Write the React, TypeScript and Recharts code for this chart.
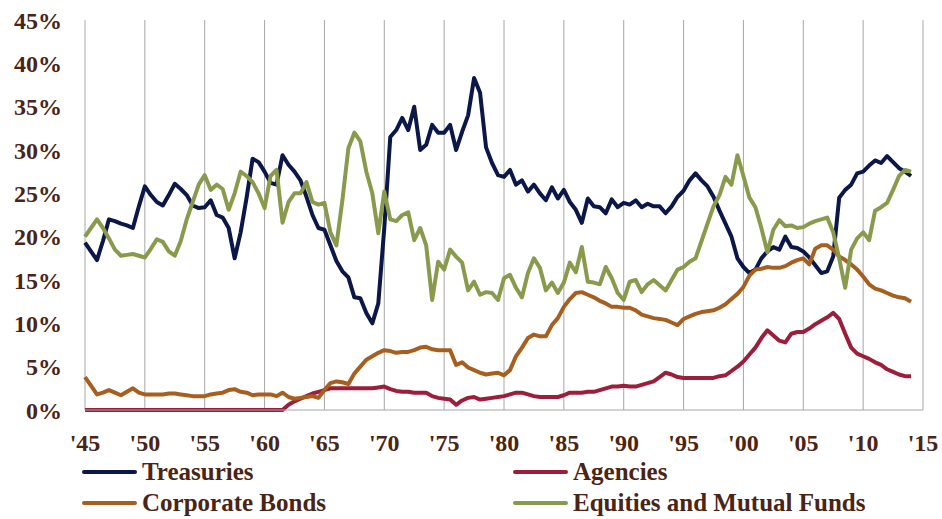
import React from 'react';
import {
  LineChart,
  Line,
  XAxis,
  YAxis,
  CartesianGrid,
  Legend,
} from 'recharts';

// half-year steps, '45 to '14
const YEARS = [
  1945, 1945.5, 1946, 1946.5, 1947, 1947.5, 1948, 1948.5, 1949, 1949.5,
  1950, 1950.5, 1951, 1951.5, 1952, 1952.5, 1953, 1953.5, 1954, 1954.5,
  1955, 1955.5, 1956, 1956.5, 1957, 1957.5, 1958, 1958.5, 1959, 1959.5,
  1960, 1960.5, 1961, 1961.5, 1962, 1962.5, 1963, 1963.5, 1964, 1964.5,
  1965, 1965.5, 1966, 1966.5, 1967, 1967.5, 1968, 1968.5, 1969, 1969.5,
  1970, 1970.5, 1971, 1971.5, 1972, 1972.5, 1973, 1973.5, 1974, 1974.5,
  1975, 1975.5, 1976, 1976.5, 1977, 1977.5, 1978, 1978.5, 1979, 1979.5,
  1980, 1980.5, 1981, 1981.5, 1982, 1982.5, 1983, 1983.5, 1984, 1984.5,
  1985, 1985.5, 1986, 1986.5, 1987, 1987.5, 1988, 1988.5, 1989, 1989.5,
  1990, 1990.5, 1991, 1991.5, 1992, 1992.5, 1993, 1993.5, 1994, 1994.5,
  1995, 1995.5, 1996, 1996.5, 1997, 1997.5, 1998, 1998.5, 1999, 1999.5,
  2000, 2000.5, 2001, 2001.5, 2002, 2002.5, 2003, 2003.5, 2004, 2004.5,
  2005, 2005.5, 2006, 2006.5, 2007, 2007.5, 2008, 2008.5, 2009, 2009.5,
  2010, 2010.5, 2011, 2011.5, 2012, 2012.5, 2013, 2013.5, 2014,
];

const TREASURIES = [
  19.3, 18.3, 17.3, 19.5, 22.0, 21.8, 21.5, 21.3, 21.0, 23.5,
  25.8, 24.8, 24.0, 23.6, 24.8, 26.1, 25.5, 24.8, 23.6, 23.3,
  23.4, 24.2, 22.5, 22.2, 21.0, 17.5, 20.5, 24.5, 29.0, 28.6,
  27.5, 26.2, 26.0, 29.4, 28.3, 27.5, 26.5, 24.6, 22.5, 21.0,
  20.8, 19.0, 17.2, 16.0, 15.3, 13.0, 12.9, 11.2, 10.0, 12.3,
  21.0, 31.5, 32.3, 33.7, 32.3, 35.0, 30.0, 30.6, 32.9, 32.0,
  32.0, 32.9, 30.0, 32.1, 34.0, 38.3, 36.6, 30.3, 28.5, 27.1,
  26.9, 27.7, 26.0, 26.5, 25.2, 26.0, 25.0, 24.2, 25.7, 24.4,
  25.4, 24.0, 23.1, 21.6, 24.4, 23.5, 23.4, 22.7, 24.3, 23.4,
  23.9, 23.7, 24.2, 23.4, 23.8, 23.5, 23.5, 22.7, 23.5, 24.6,
  25.3, 26.5, 27.3, 26.5, 25.8, 24.6, 23.0, 21.5, 20.0, 17.5,
  16.5, 15.8, 16.2, 17.5, 18.3, 18.8, 18.5, 20.0, 18.8, 18.7,
  18.3, 17.6, 16.7, 15.8, 16.0, 17.7, 24.5, 25.4, 26.0, 27.3,
  27.5, 28.2, 28.8, 28.5, 29.3, 28.6, 27.9, 27.5, 27.0,
];

const AGENCIES = [
  0, 0, 0, 0, 0, 0, 0, 0, 0, 0,
  0, 0, 0, 0, 0, 0, 0, 0, 0, 0,
  0, 0, 0, 0, 0, 0, 0, 0, 0, 0,
  0, 0, 0, 0, 0.6, 1.0, 1.3, 1.6, 1.9, 2.1,
  2.3, 2.5, 2.5, 2.5, 2.5, 2.5, 2.5, 2.5, 2.5, 2.6,
  2.7, 2.4, 2.2, 2.1, 2.1, 2.0, 2.0, 2.0, 1.6, 1.4,
  1.3, 1.2, 0.6, 1.1, 1.4, 1.5, 1.2, 1.3, 1.4, 1.5,
  1.6, 1.8, 2.0, 2.0, 1.8, 1.6, 1.5, 1.5, 1.5, 1.5,
  1.7, 2.0, 2.0, 2.0, 2.1, 2.1, 2.3, 2.5, 2.7, 2.7,
  2.8, 2.7, 2.7, 2.9, 3.1, 3.3, 3.8, 4.3, 4.1, 3.8,
  3.7, 3.7, 3.7, 3.7, 3.7, 3.7, 3.9, 4.0, 4.5, 5.0,
  5.6, 6.4, 7.2, 8.3, 9.2, 8.6, 8.0, 7.8, 8.8, 9.0,
  9.0, 9.4, 9.9, 10.3, 10.7, 11.2, 10.5, 8.8, 7.2, 6.5,
  6.2, 5.9, 5.5, 5.2, 4.7, 4.4, 4.1, 3.9, 3.9,
];

const CORPORATE = [
  3.8, 2.8, 1.8, 2.0, 2.3, 2.0, 1.7, 2.1, 2.5, 2.0,
  1.8, 1.8, 1.8, 1.8, 1.9, 1.9, 1.8, 1.7, 1.6, 1.6,
  1.6, 1.8, 1.9, 2.0, 2.3, 2.4, 2.1, 2.0, 1.7, 1.8,
  1.8, 1.8, 1.6, 2.0, 1.5, 1.3, 1.4, 1.5, 1.6, 1.4,
  2.3, 3.1, 3.3, 3.2, 3.0, 4.2, 5.0, 5.8, 6.2, 6.6,
  6.9, 6.8, 6.6, 6.7, 6.7, 6.9, 7.2, 7.3, 7.0, 6.9,
  6.9, 6.9, 5.2, 5.5, 4.9, 4.6, 4.3, 4.1, 4.2, 4.3,
  4.0, 4.6, 6.2, 7.2, 8.3, 8.7, 8.5, 8.5, 9.8, 10.6,
  11.9, 12.8, 13.5, 13.6, 13.3, 13.0, 12.6, 12.3, 11.9, 11.9,
  11.8, 11.8, 11.5, 11.0, 10.8, 10.6, 10.5, 10.4, 10.1, 9.8,
  10.5, 10.8, 11.1, 11.3, 11.4, 11.5, 11.8, 12.2, 12.8, 13.4,
  14.2, 15.5, 16.2, 16.3, 16.5, 16.4, 16.4, 16.6, 17.0, 17.3,
  17.5, 16.8, 18.6, 19.0, 19.0, 18.5, 17.7, 17.3, 16.8, 16.2,
  15.4, 14.5, 14.0, 13.8, 13.5, 13.2, 13.0, 12.9, 12.5,
];

const EQUITIES = [
  20.0, 21.0, 22.0, 21.0, 19.8, 18.5, 17.8, 17.9, 18.0, 17.8,
  17.6, 18.6, 19.7, 19.4, 18.3, 17.8, 19.5, 22.0, 24.0, 26.0,
  27.1, 25.4, 26.0, 25.5, 23.1, 25.0, 27.5, 27.0, 26.3, 25.0,
  23.3, 27.0, 27.7, 21.6, 24.0, 25.0, 25.0, 26.3, 24.0, 23.7,
  23.9, 20.5, 19.0, 24.2, 30.2, 32.0, 31.0, 27.5, 25.0, 20.4,
  25.2, 22.0, 21.8, 22.5, 22.8, 19.6, 21.0, 19.0, 12.7, 17.1,
  16.2, 18.5, 17.7, 17.0, 13.8, 14.8, 13.3, 13.6, 13.5, 12.7,
  15.2, 15.6, 14.1, 13.0, 15.8, 17.5, 16.4, 13.8, 14.7, 13.5,
  14.7, 17.0, 15.9, 18.8, 14.8, 14.7, 14.5, 16.5, 15.2, 13.5,
  12.7, 14.8, 15.0, 13.6, 14.5, 15.0, 14.4, 13.8, 15.0, 16.2,
  16.5, 17.1, 17.5, 19.5, 21.5, 23.5, 24.8, 26.9, 26.0, 29.4,
  27.0, 24.5, 23.4, 21.0, 18.2, 20.8, 21.9, 21.2, 21.3, 21.0,
  21.1, 21.5, 21.8, 22.0, 22.2, 20.5, 17.5, 14.1, 18.5, 19.8,
  20.5, 19.6, 23.0, 23.4, 23.9, 25.4, 27.0, 27.7, 27.5,
];

const X_TICKS = [1945, 1950, 1955, 1960, 1965, 1970, 1975, 1980, 1985, 1990, 1995, 2000, 2005, 2010, 2015];
const Y_TICKS = [0, 5, 10, 15, 20, 25, 30, 35, 40, 45];

const SERIES = [
  { key: 'treasuries', label: 'Treasuries', color: '#0b1748' },
  { key: 'agencies', label: 'Agencies', color: '#9c1e3b' },
  { key: 'corporate', label: 'Corporate Bonds', color: '#a65f1f' },
  { key: 'equities', label: 'Equities and Mutual Funds', color: '#8a9a4c' },
] as const;

const TEXT = '#4a2414';
const FONT = '"Liberation Serif", "DejaVu Serif", serif';

const data = YEARS.map((year, i) => ({
  year,
  treasuries: TREASURIES[i],
  agencies: AGENCIES[i],
  corporate: CORPORATE[i],
  equities: EQUITIES[i],
}));

function fmtYear(v: number): string {
  return `'${String(v).slice(2)}`;
}

function LegendBox() {
  return (
    <div
      style={{
        display: 'grid',
        gridTemplateColumns: '431px 431px',
        rowGap: 0,
        fontFamily: FONT,
        fontWeight: 700,
        fontSize: 25,
        color: TEXT,
      }}
    >
      {SERIES.map((s) => (
        <div key={s.key} style={{ display: 'flex', alignItems: 'center', height: 31 }}>
          <span
            style={{
              display: 'inline-block',
              width: 55,
              height: 4,
              borderRadius: 2,
              background: s.color,
              marginRight: 5,
            }}
          />
          <span style={{ lineHeight: '31px', whiteSpace: 'nowrap' }}>{s.label}</span>
        </div>
      ))}
    </div>
  );
}

export default function App() {
  return (
    <div style={{ position: 'absolute', left: 0, top: 0, width: 942, height: 519, background: '#fff' }}>
      <LineChart
        width={942}
        height={519}
        data={data}
        margin={{ top: 20, right: 19, left: 0, bottom: 69 }}
      >
        <CartesianGrid horizontal={false} stroke="#a6a6a6" strokeWidth={1} />
        <XAxis
          dataKey="year"
          type="number"
          domain={[1945, 2015]}
          ticks={X_TICKS}
          tickFormatter={fmtYear}
          height={40}
          stroke="#a6a6a6"
          tickLine={false}
          tickSize={6}
          tickMargin={18}
          tick={{ fill: TEXT, fontSize: 24, fontFamily: FONT, fontWeight: 700 }}
        />
        <YAxis
          type="number"
          domain={[0, 45]}
          ticks={Y_TICKS}
          tickFormatter={(v: number) => `${v}%`}
          width={85}
          axisLine={false}
          tickLine={false}
          tickSize={6}
          tickMargin={17}
          tick={{ fill: TEXT, fontSize: 24, fontFamily: FONT, fontWeight: 700 }}
        />
        <Legend
          layout="vertical"
          align="center"
          verticalAlign="middle"
          content={() => <LegendBox />}
          wrapperStyle={{ position: 'absolute', left: 82, top: 456, width: 870 }}
        />
        {SERIES.map((s) => (
          <Line
            key={s.key}
            type="linear"
            dataKey={s.key}
            name={s.label}
            stroke={s.color}
            strokeWidth={4}
            dot={false}
            strokeLinejoin="round"
            isAnimationActive={false}
          />
        ))}
      </LineChart>
    </div>
  );
}
